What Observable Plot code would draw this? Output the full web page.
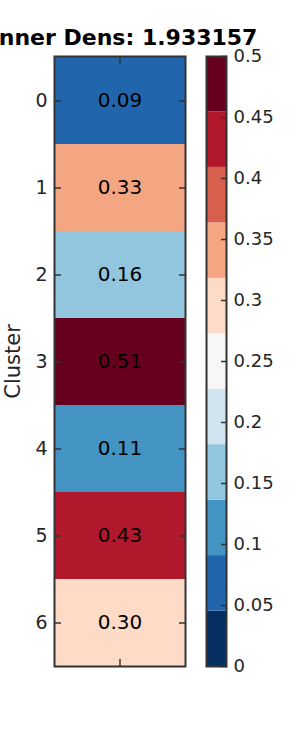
<!DOCTYPE html>
<html><head><meta charset="utf-8">
<script src="https://cdn.jsdelivr.net/npm/d3@7"></script>
<script src="https://cdn.jsdelivr.net/npm/@observablehq/plot@0.6"></script>
<style>
body{margin:0;background:#fff;}
#wrap{position:relative;width:300px;height:750px;overflow:hidden;background:#fff;}
#wrap svg{position:absolute;top:0;}
</style></head><body><div id="wrap"></div>
<script>
const title = "Inner Dens: 1.933157";
const yLabel = "Cluster";
const clusters = [0, 1, 2, 3, 4, 5, 6];
const values = [0.09, 0.33, 0.16, 0.51, 0.11, 0.43, 0.30];
const cbarTicks = [0, 0.05, 0.1, 0.15, 0.2, 0.25, 0.3, 0.35, 0.4, 0.45, 0.5];
const cbarTickLabels = ["0", "0.05", "0.1", "0.15", "0.2", "0.25", "0.3", "0.35", "0.4", "0.45", "0.5"];
const colorDomain = [0, 0.5];
const nColors = 11;

const palette = d3.schemeRdBu[nColors].slice().reverse();
const thresholds = d3.range(1, nColors).map(i => colorDomain[0] + i * (colorDomain[1] - colorDomain[0]) / nColors);
const colorOpts = {type: "threshold", domain: thresholds, range: palette};
const data = clusters.map((c, i) => ({cluster: c, value: values[i], col: ""}));
const bins = d3.pairs([colorDomain[0], ...thresholds, colorDomain[1]]).map(([lo, hi]) => ({lo, hi, mid: (lo + hi) / 2}));
const labelOf = new Map(cbarTicks.map((t, i) => [t, cbarTickLabels[i]]));

const ink = "#262626";
const frameCol = "#333333";

const main = Plot.plot({
  width: 300, height: 750,
  marginLeft: 54, marginRight: 115, marginTop: 56, marginBottom: 84,
  style: {fontFamily: "DejaVu Sans", background: "transparent", overflow: "hidden"},
  x: {type: "band", domain: [""], padding: 0, axis: null, label: null},
  y: {type: "band", domain: clusters, padding: 0, axis: null, label: null},
  color: colorOpts,
  marks: [
    Plot.cell(data, {x: "col", y: "cluster", fill: "value"}),
    Plot.text(data, {x: "col", y: "cluster", text: d => d.value.toFixed(2), fontSize: 20, fill: "#000"}),
    Plot.axisY({anchor: "left", label: null, tickSize: 7, dx: 7, tickPadding: 7, fontSize: 19, fill: ink, stroke: frameCol, strokeWidth: 1.5}),
    Plot.axisY({anchor: "right", label: null, tickSize: 7, dx: -7, tickFormat: () => "", stroke: frameCol, strokeWidth: 1.5}),
    Plot.axisX({anchor: "top", label: null, tickSize: 7, dy: 7, tickFormat: () => "", stroke: frameCol, strokeWidth: 1.5}),
    Plot.axisX({anchor: "bottom", label: null, tickSize: 7, dy: -7, tickFormat: () => "", stroke: frameCol, strokeWidth: 1.5}),
    Plot.frame({stroke: frameCol, strokeWidth: 2}),
    Plot.text([yLabel], {frameAnchor: "left", textAnchor: "middle", rotate: -90, dx: -41, fontSize: 21, fill: ink, lineAnchor: "middle"}),
    Plot.text([title], {frameAnchor: "top", dy: -19, dx: 4, fontSize: 22, fontWeight: "bold", fill: "#000", lineAnchor: "middle"})
  ]
});

const cbar = Plot.plot({
  width: 94, height: 750,
  marginLeft: 0, marginRight: 74, marginTop: 56, marginBottom: 84,
  style: {fontFamily: "DejaVu Sans", background: "transparent", overflow: "visible"},
  y: {domain: colorDomain, axis: null, label: null},
  color: colorOpts,
  marks: [
    Plot.rect(bins, {y1: "lo", y2: "hi", fill: "mid"}),
    Plot.axisY(cbarTicks, {anchor: "right", label: null, tickSize: 6, dx: -6, tickPadding: 7, tickFormat: d => labelOf.get(d), fontSize: 18, fill: ink, stroke: frameCol, strokeWidth: 1.5}),
    Plot.frame({stroke: frameCol, strokeWidth: 2})
  ]
});

const wrap = document.getElementById("wrap");
main.style.left = "0px";
cbar.style.left = "206px";
wrap.appendChild(main);
wrap.appendChild(cbar);
</script>
</body></html>
